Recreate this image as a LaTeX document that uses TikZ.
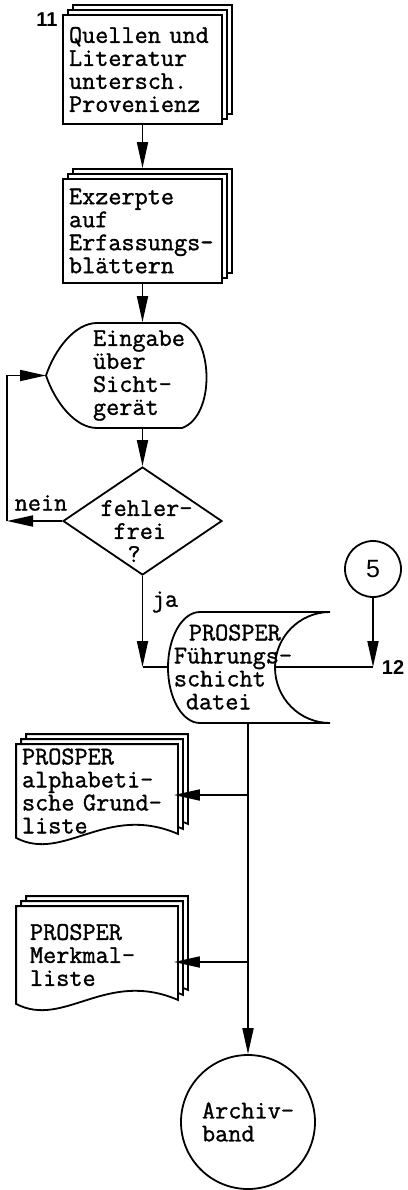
\documentclass[tikz,border=0pt]{standalone}
\usepackage{fontspec}
\setmonofont{Latin Modern Mono}[FakeBold=1.2]
\newfontfamily\numfont{Liberation Sans}
\usetikzlibrary{arrows.meta,shadows,backgrounds,shapes.geometric}
\newcommand{\typew}{\fontsize{25.5}{23}\selectfont\ttfamily}
\newcommand{\paperdoc}[2]{%
  \filldraw[fill=white, line width=1.8pt] ([shift={(#2,#2)}]#1.north west) -- ([shift={(#2,#2)}]#1.north east)
    -- ([shift={(#2,#2+4)}]#1.south east)
    .. controls ([shift={(#2-72,#2+35)}]#1.south east) and ([shift={(#2+48,#2-25)}]#1.south west)
    .. ([shift={(#2,#2)}]#1.south west) -- cycle;}
\tikzset{
  flow_t/.style = {font=\typew, align=left, inner sep=0pt},
  box_n/.style = {flow_t, rectangle, draw, fill=white, text width=147pt,
    inner xsep=6pt, copy shadow={shadow xshift=10pt, shadow yshift=10pt},
    copy shadow={shadow xshift=5pt, shadow yshift=5pt}},
  dec_n/.style = {diamond, draw, minimum width=159pt, minimum height=108pt,
    inner sep=0pt},
  doc_n/.style = {flow_t, rectangle, minimum width=160pt},
  con_n/.style = {circle, draw, inner sep=0pt},
  num_l/.style = {font=\numfont\bfseries\fontsize{20}{20}\selectfont, inner sep=0pt}
}
\begin{document}
\begin{tikzpicture}[x=1pt, y=1pt, line width=1.8pt,
  >={Triangle[length=26pt,width=11pt]}]
\useasboundingbox (0,0) rectangle (407,-1190);
\node [box_n, minimum height=109pt] (quellen) at (142.5,-69.5)
  {Quellen und\\Literatur\\untersch.\\Provenienz};
\node [box_n, minimum height=104pt] (exzerpte) at (142.5,-231)
  {Exzerpte\\auf\\Erfassungs-\\blättern};
\node [flow_t, minimum height=105pt] (eingabe) at (139,-375.5)
  {Eingabe\\über\\Sicht-\\gerät};
\node [dec_n, label={[flow_t, xshift=4pt, yshift=-10pt]center:{fehler-\\\hspace*{13pt}frei\\\hspace*{27pt}?}}]
  (fehler) at (142.5,-521) {};
\node [flow_t] (fuehrung) at (233,-667)
  {\hspace*{15pt}PROSPER\\Führungs-\\schicht\\\hspace*{12pt}datei};
\node [con_n, minimum size=56pt, font=\numfont\fontsize{25}{25}\selectfont]
  (con5) at (373,-569) {5};
\node [doc_n, minimum height=92pt, text width=150pt, inner xsep=5pt] (grund) at (97,-791)
  {PROSPER\\alphabeti-\\sche Grund-\\liste};
\node [doc_n, minimum height=96pt, text width=134pt, inner xsep=13pt] (merkmal) at (97,-955)
  {PROSPER\\Merkmal-\\liste};
\node [con_n, flow_t, minimum size=134pt] (archiv) at (248,-1122) {Archiv-\\band};
\node [num_l] (n11) at (47,-20) {11};
\node [num_l] (n12) at (393,-668) {12};
\node [flow_t] (nein) at (41,-503) {nein};
\node [flow_t] (ja) at (165,-602) {ja};

\coordinate (eingabe_w) at (46,-375.5);
\coordinate (loop_c) at (7,-521);
\coordinate (ja_c) at (142.5,-667);
\coordinate (store_w) at (168,-667);
\coordinate (store_e) at (275,-667);
\coordinate (store_s) at (248,-723);
\coordinate (c12) at (373,-667);
\coordinate (b1) at (248,-795);
\coordinate (b2) at (248,-962);

% display and stored data outlines
\draw (97,-323) -- (180,-323) .. controls (214,-335) and (216,-416) .. (182,-428)
  -- (97,-428) .. controls (75,-428) and (55,-402) .. (eingabe_w)
  .. controls (55,-349) and (75,-323) .. cycle;
\draw (200,-612) -- (330,-612) arc[start angle=90, end angle=270, x radius=55pt, y radius=55.5pt]
  -- (200,-723) arc[start angle=270, end angle=90, x radius=32pt, y radius=55.5pt] -- cycle;
\begin{scope}[on background layer]
  \foreach \d in {10,5,0} {\paperdoc{grund}{\d} \paperdoc{merkmal}{\d}}
\end{scope}

\draw[->] (quellen) -- ([yshift=10pt]exzerpte.north);
\draw[->] (exzerpte) -- (exzerpte.south |- eingabe.north);
\draw[->] (fehler.north |- eingabe.south) -- (fehler);
\draw[->] (fehler) -- (loop_c);
\draw[->] (loop_c) |- (eingabe_w);
\draw[->] (fehler) -- (ja_c);
\draw (ja_c) -- (store_w);
\draw[->] (con5) -- (c12);
\draw (c12) -- (store_e);
\draw[->] (store_s) -- (archiv);
\draw[->, shorten >=-4pt] (b1) -- (b1 -| grund.east);
\draw[->, shorten >=-4pt] (b2) -- (b2 -| merkmal.east);
\end{tikzpicture}
\end{document}
